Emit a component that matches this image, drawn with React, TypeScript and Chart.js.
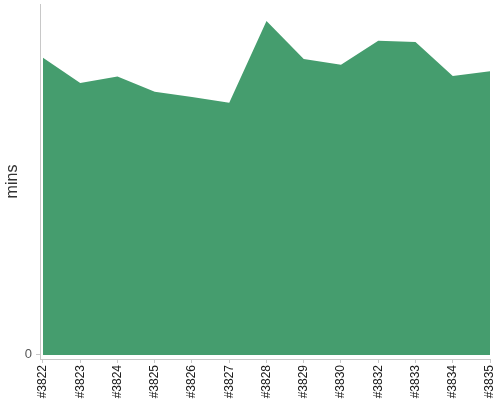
import { useEffect, useRef } from "react";
import Chart from "chart.js/auto";

const builds = ["#3822", "#3823", "#3824", "#3825", "#3826", "#3827", "#3828", "#3829", "#3830", "#3832", "#3833", "#3834", "#3835"];
const minutes = [50.8, 46.5, 47.6, 45.0, 44.1, 43.1, 57.1, 50.6, 49.6, 53.7, 53.5, 47.7, 48.5];
const yTicks = [0];

const FONT = "'Liberation Sans', Arial, sans-serif";
const AXIS = "#c8c8c8";

export default function App() {
  const canvasRef = useRef<HTMLCanvasElement | null>(null);

  useEffect(() => {
    if (!canvasRef.current) return;
    const chart = new Chart(canvasRef.current, {
      type: "line",
      data: {
        datasets: [
          {
            label: "mins",
            data: minutes.map((m, i) => ({ x: i, y: m })),
            backgroundColor: "#459d6e",
            borderWidth: 0,
            pointRadius: 0,
            tension: 0,
            fill: "origin",
          },
        ],
      },
      options: {
        animation: false,
        responsive: true,
        maintainAspectRatio: false,
        layout: { padding: { top: 4, right: 10, left: 0, bottom: 0 } },
        plugins: { legend: { display: false }, tooltip: { enabled: false } },
        scales: {
          x: {
            type: "linear",
            min: -0.08,
            max: builds.length - 1,
            afterBuildTicks: (scale: any) => {
              scale.ticks = builds.map((_, i) => ({ value: i }));
            },
            afterFit: (scale: any) => {
              scale.height = 41;
              scale.paddingLeft = 0;
              scale.paddingRight = 0;
            },
            grid: { drawOnChartArea: false, drawTicks: true, tickLength: 4, color: AXIS },
            border: { color: AXIS },
            ticks: {
              autoSkip: false,
              maxRotation: 90,
              minRotation: 90,
              padding: 2,
              color: "#1a1a1a",
              font: { family: FONT, size: 12 },
              callback: (v: any) => builds[v as number] ?? "",
            },
          },
          y: {
            min: -0.7,
            max: 60,
            afterBuildTicks: (scale: any) => {
              scale.ticks = yTicks.map((v) => ({ value: v }));
            },
            afterFit: (scale: any) => {
              scale.width = 40;
              scale.paddingTop = 0;
              scale.paddingBottom = 0;
            },
            grid: { drawOnChartArea: false, drawTicks: true, tickLength: 4, color: AXIS },
            border: { color: AXIS },
            ticks: { padding: 4, color: "#555", font: { family: FONT, size: 13 } },
            title: {
              display: true,
              text: "mins",
              color: "#333",
              padding: { top: 3, bottom: 0 },
              font: { family: FONT, size: 16 },
            },
          },
        },
      },
    });
    return () => chart.destroy();
  }, []);

  return (
    <div style={{ position: "absolute", left: 0, top: 0, width: 500, height: 400 }}>
      <canvas ref={canvasRef} />
    </div>
  );
}
